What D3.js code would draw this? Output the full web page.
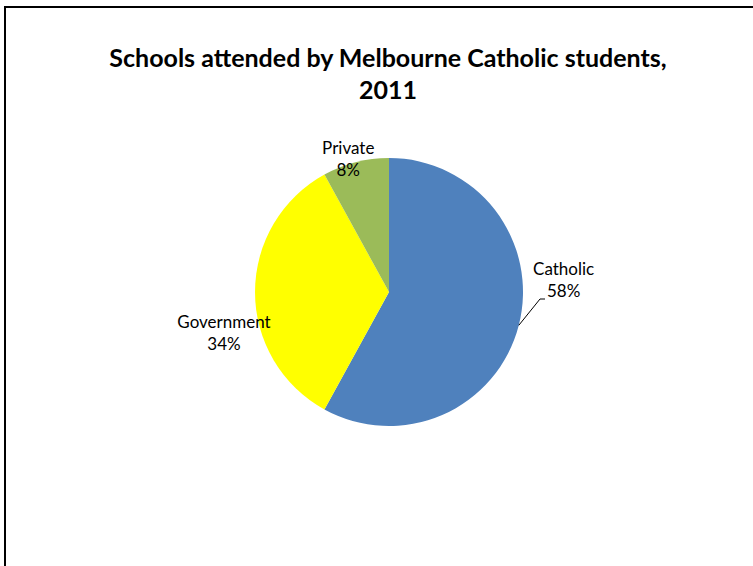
<!DOCTYPE html>
<html>
<head>
<meta charset="utf-8">
<script src="https://cdn.jsdelivr.net/npm/d3@7"></script>
<style>
  body { margin: 0; background: #fff; }
  text { font-family: Lato, "Open Sans", sans-serif; fill: #000; }
</style>
</head>
<body>
<div id="chart"></div>
<script>
const categories = ["Catholic", "Government", "Private"];
const values = [58, 34, 8];
const colors = ["#4F81BD", "#FFFF00", "#9BBB59"];

var width = 753;
var height = 566;

var svg = d3.select("#chart")
  .append("svg")
  .attr("width", width)
  .attr("height", height);

// frame
svg.append("rect")
  .attr("x", 5)
  .attr("y", 7)
  .attr("width", 760)
  .attr("height", 570)
  .attr("fill", "none")
  .attr("stroke", "#000")
  .attr("stroke-width", 2);

var title = svg.append("text")
  .attr("text-anchor", "middle")
  .attr("font-weight", "bold")
  .attr("font-size", 25);
title.append("tspan").attr("x", 388).attr("y", 67).text("Schools attended by Melbourne Catholic students,");
title.append("tspan").attr("x", 388).attr("y", 99).text("2011");

var cx = 389, cy = 292, r = 134;

var data = categories.map((c, i) => ({ name: c, value: values[i], color: colors[i] }));
var pie = d3.pie().sort(null).value(d => d.value);
var arc = d3.arc().innerRadius(0).outerRadius(r);
var arcs = pie(data);

var g = svg.append("g").attr("transform", `translate(${cx},${cy})`);
g.selectAll("path")
  .data(arcs)
  .enter()
  .append("path")
  .attr("d", arc)
  .attr("fill", d => d.data.color);

// label positions (outside end), offset by hand per slice like Excel's best fit
var labelArc = d3.arc().innerRadius(r + 38).outerRadius(r + 38);
var nudges = [[8, -60], [7, 36], [2, 29]];

arcs.forEach(function(d, i) {
  var p = labelArc.centroid(d);
  var lx = p[0] + nudges[i][0], ly = p[1] + nudges[i][1];
  var t = g.append("text")
    .attr("text-anchor", "middle")
    .attr("font-size", 17);
  t.append("tspan").attr("x", lx).attr("y", ly).text(d.data.name);
  t.append("tspan").attr("x", lx).attr("y", ly + 22).text(Math.round(d.value) + "%");
});

// leader line for Catholic
var a0 = arcs[0];
var mid = (a0.startAngle + a0.endAngle) / 2;
var edge = [Math.sin(mid) * r, -Math.cos(mid) * r];
g.append("polyline")
  .attr("points", [[edge[0], edge[1]], [151, 7], [156, 7]].map(p => p.join(",")).join(" "))
  .attr("fill", "none")
  .attr("stroke", "#000")
  .attr("stroke-width", 1);
</script>
</body>
</html>
